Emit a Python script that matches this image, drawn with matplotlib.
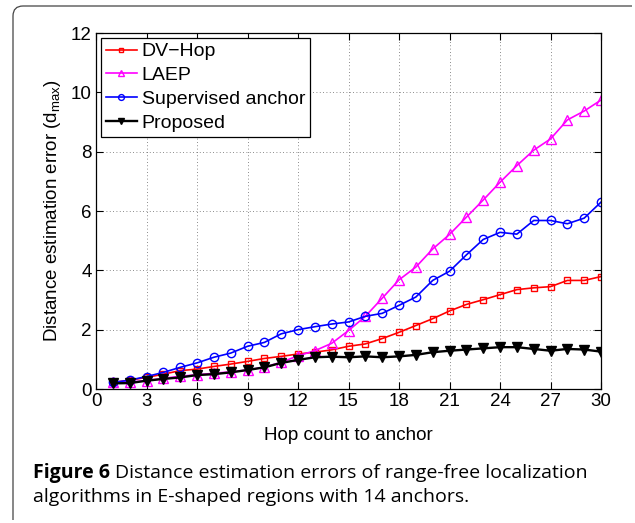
import numpy as np
import matplotlib
matplotlib.use("Agg")
import matplotlib.pyplot as plt
from matplotlib.path import Path
from matplotlib.patches import PathPatch

# hop counts and mean distance errors (in units of d_max)
hops = list(range(1, 31))

dv_hop = [0.22, 0.30, 0.39, 0.50, 0.62, 0.67, 0.76, 0.84, 0.93, 1.03,
          1.10, 1.18, 1.24, 1.32, 1.44, 1.52, 1.70, 1.91, 2.14, 2.37,
          2.63, 2.85, 3.01, 3.18, 3.35, 3.41, 3.45, 3.66, 3.66, 3.79]

laep = [0.22, 0.24, 0.28, 0.36, 0.43, 0.48, 0.53, 0.58, 0.64, 0.74,
        0.90, 1.12, 1.29, 1.54, 1.97, 2.45, 3.06, 3.68, 4.11, 4.72,
        5.21, 5.79, 6.37, 6.97, 7.53, 8.05, 8.43, 9.07, 9.37, 9.74]

supervised = [0.22, 0.30, 0.42, 0.56, 0.73, 0.88, 1.07, 1.21, 1.44, 1.57,
              1.86, 2.00, 2.10, 2.19, 2.26, 2.45, 2.55, 2.82, 3.10, 3.66,
              3.97, 4.52, 5.04, 5.28, 5.22, 5.68, 5.68, 5.57, 5.76, 6.30]

proposed = [0.19, 0.20, 0.28, 0.34, 0.39, 0.47, 0.50, 0.56, 0.64, 0.73,
            0.88, 0.98, 1.07, 1.09, 1.07, 1.10, 1.07, 1.10, 1.15, 1.24,
            1.29, 1.33, 1.37, 1.41, 1.41, 1.35, 1.29, 1.35, 1.33, 1.26]

x_ticks = list(range(0, 31, 3))
y_ticks = list(range(0, 13, 2))

plt.rcParams["font.family"] = ["Liberation Sans", "DejaVu Sans"]

fig = plt.figure(figsize=(6.35, 5.23), dpi=100)
ax = fig.add_axes([0.1512, 0.2562, 0.7953, 0.6807])

ax.plot(hops, dv_hop, color="red", marker="s", markersize=5, mfc="none",
        mew=1.0, lw=1.2, label="DV\u2212Hop")
ax.plot(hops, laep, color="magenta", marker="^", markersize=7, mfc="none",
        mew=1.0, lw=1.2, label="LAEP")
ax.plot(hops, supervised, color="blue", marker="o", markersize=6, mfc="none",
        mew=1.0, lw=1.2, label="Supervised anchor")
ax.plot(hops, proposed, color="black", marker="v", markersize=7, mfc="black",
        mew=1.0, lw=1.7, label="Proposed")

ax.set_xlim(0, 30)
ax.set_ylim(0, 12)
ax.set_xticks(x_ticks)
ax.set_yticks(y_ticks)
ax.tick_params(direction="in", top=True, right=True, labelsize=13.5,
               length=5, width=0.8, pad=3)
ax.grid(True, linestyle=(0, (1, 3)), color="#666666", linewidth=0.6)
for s in ax.spines.values():
    s.set_linewidth(0.9)

ax.set_xlabel("Hop count to anchor", fontsize=13.5, labelpad=12)
ax.set_ylabel("Distance estimation error (d$_{\\mathregular{max}}$)",
              fontsize=13.5, labelpad=6)

leg = ax.legend(loc="upper left", fontsize=14, handlelength=1.6,
                handletextpad=0.25, borderpad=0.25, labelspacing=0.32,
                borderaxespad=0.25, fancybox=False, framealpha=1,
                edgecolor="black", markerscale=0.7)
leg.get_frame().set_linewidth(0.9)

# rounded frame line on the left and top of the panel
r = 10
W, H = 635.0, 523.0
pts = [(13 / W, 3 / H), (13 / W, (H - 6 - r) / H),
       (13 / W, (H - 6) / H), ((13 + r) / W, (H - 6) / H),
       (632 / W, (H - 6) / H)]
codes = [Path.MOVETO, Path.LINETO, Path.CURVE3, Path.CURVE3, Path.LINETO]
frame = PathPatch(Path(pts, codes), transform=fig.transFigure,
                  fill=False, edgecolor="#444444", lw=0.9)
fig.add_artist(frame)

# caption: bold figure number followed by regular text
cap_font = ["Open Sans", "DejaVu Sans"]
cap_size = 14
t1 = fig.text(33 / W, 1 - 473 / H, "Figure 6", fontsize=cap_size,
              fontweight="bold", family=cap_font, va="center")
fig.canvas.draw()
bb = t1.get_window_extent(fig.canvas.get_renderer())
fig.text((bb.x1 + 5) / W, 1 - 473 / H,
         "Distance estimation errors of range-free localization",
         fontsize=cap_size, family=cap_font, va="center")
fig.text(33 / W, 1 - 497 / H,
         "algorithms in E-shaped regions with 14 anchors.",
         fontsize=cap_size, family=cap_font, va="center")

fig.savefig("out.png", dpi=100)
